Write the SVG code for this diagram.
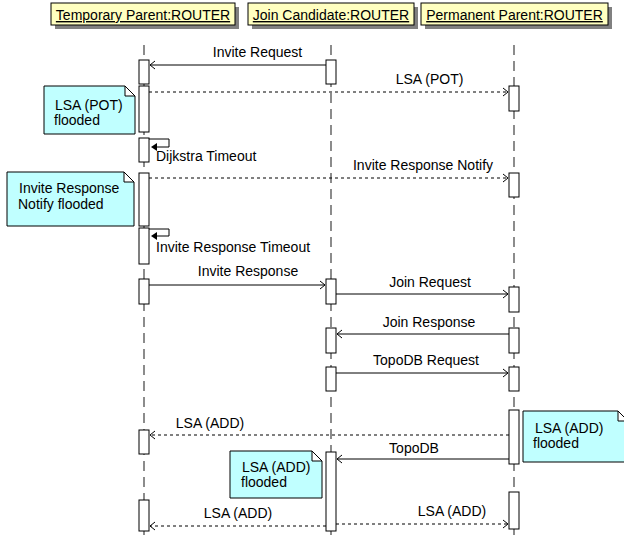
<svg xmlns="http://www.w3.org/2000/svg" width="624" height="537" viewBox="0 0 624 537">
  <style>
    text { font-family: "Liberation Sans", Arial, sans-serif; font-size: 14px; fill: #000; }
    .head { fill: #FFFFC0; stroke: #000; stroke-width: 1; }
    .shadow { fill: #808080; }
    .life { stroke: #404040; stroke-width: 1.2; stroke-dasharray: 10 6; fill: none; }
    .bar { fill: #fff; stroke: #000; stroke-width: 1; }
    .msg { stroke: #000; stroke-width: 1; fill: none; }
    .async { stroke: #000; stroke-width: 1; fill: none; stroke-dasharray: 3 3; }
    .note { fill: #C0FFFF; stroke: #000; stroke-width: 1; }
    .fold { fill: #fff; stroke: #000; stroke-width: 1; }
    .u { text-decoration: underline; }
  </style>
  <defs>
    <marker id="open" markerUnits="userSpaceOnUse" markerWidth="10" markerHeight="10" refX="6" refY="5" orient="auto">
      <path d="M1,1 L6,5 L1,9" fill="none" stroke="#000" stroke-width="1"/>
    </marker>
  </defs>

  <!-- lifeline heads -->
  <g id="temporary-parent">
    <rect class="shadow" x="55" y="7" width="184" height="22"/>
    <rect class="head" x="51" y="3" width="184" height="22"/>
    <text class="u" x="143" y="20" text-anchor="middle">Temporary Parent:ROUTER</text>
  </g>
  <g id="join-candidate">
    <rect class="shadow" x="252" y="7" width="166" height="22"/>
    <rect class="head" x="248" y="3" width="166" height="22"/>
    <text class="u" x="331" y="20" text-anchor="middle">Join Candidate:ROUTER</text>
  </g>
  <g id="permanent-parent">
    <rect class="shadow" x="425" y="7" width="187" height="22"/>
    <rect class="head" x="421" y="3" width="187" height="22"/>
    <text class="u" x="514.5" y="20" text-anchor="middle">Permanent Parent:ROUTER</text>
  </g>

  <!-- lifelines -->
  <g id="lifelines">
    <line class="life" x1="144" y1="45" x2="144" y2="537"/>
    <line class="life" x1="331" y1="45" x2="331" y2="537"/>
    <line class="life" x1="514" y1="45" x2="514" y2="537"/>
  </g>

  <!-- activation bars -->
  <g id="activations">
    <rect class="bar" x="139" y="60" width="10" height="24"/>
    <rect class="bar" x="139" y="86" width="10" height="46"/>
    <rect class="bar" x="139" y="138" width="10" height="24"/>
    <rect class="bar" x="139" y="173" width="10" height="53"/>
    <rect class="bar" x="139" y="228" width="10" height="36"/>
    <rect class="bar" x="139" y="279" width="10" height="25"/>
    <rect class="bar" x="139" y="430" width="10" height="24"/>
    <rect class="bar" x="139" y="500" width="10" height="31"/>

    <rect class="bar" x="326" y="60" width="10" height="24"/>
    <rect class="bar" x="326" y="279" width="10" height="25"/>
    <rect class="bar" x="326" y="328" width="10" height="25"/>
    <rect class="bar" x="326" y="367" width="10" height="24"/>
    <rect class="bar" x="326" y="452" width="10" height="79"/>

    <rect class="bar" x="509" y="86" width="10" height="25"/>
    <rect class="bar" x="509" y="173" width="10" height="24"/>
    <rect class="bar" x="509" y="287" width="10" height="25"/>
    <rect class="bar" x="509" y="328" width="10" height="25"/>
    <rect class="bar" x="509" y="367" width="10" height="24"/>
    <rect class="bar" x="509" y="410" width="10" height="54"/>
    <rect class="bar" x="509" y="492" width="10" height="37"/>
  </g>

  <!-- messages -->
  <g id="connectors">
    <line class="msg" x1="326" y1="65" x2="150" y2="65" marker-end="url(#open)"/>
    <text x="257.5" y="57" text-anchor="middle">Invite Request</text>

    <line class="async" x1="149" y1="92" x2="508" y2="92" marker-end="url(#open)"/>
    <text x="429.5" y="84" text-anchor="middle">LSA (POT)</text>

    <polyline class="msg" points="149,139 169,139 169,147 156,147"/>
    <polygon points="151,147 157,143 157,151" fill="#000"/>
    <text x="156" y="161">Dijkstra Timeout</text>

    <line class="async" x1="149" y1="178" x2="508" y2="178" marker-end="url(#open)"/>
    <text x="423" y="170" text-anchor="middle">Invite Response Notify</text>

    <polyline class="msg" points="149,229 169,229 169,236 156,236"/>
    <polygon points="151,236 157,232 157,240" fill="#000"/>
    <text x="156" y="252">Invite Response Timeout</text>

    <line class="msg" x1="149" y1="285" x2="325" y2="285" marker-end="url(#open)"/>
    <text x="248" y="276" text-anchor="middle">Invite Response</text>

    <line class="msg" x1="336" y1="294" x2="508" y2="294" marker-end="url(#open)"/>
    <text x="430" y="287" text-anchor="middle">Join Request</text>

    <line class="msg" x1="509" y1="334" x2="337" y2="334" marker-end="url(#open)"/>
    <text x="429" y="327" text-anchor="middle">Join Response</text>

    <line class="msg" x1="336" y1="373" x2="508" y2="373" marker-end="url(#open)"/>
    <text x="426" y="365" text-anchor="middle">TopoDB Request</text>

    <line class="async" x1="509" y1="435" x2="150" y2="435" marker-end="url(#open)"/>
    <text x="210" y="428" text-anchor="middle">LSA (ADD)</text>

    <line class="msg" x1="509" y1="459" x2="337" y2="459" marker-end="url(#open)"/>
    <text x="414" y="453" text-anchor="middle">TopoDB</text>

    <line class="async" x1="326" y1="526" x2="150" y2="526" marker-end="url(#open)"/>
    <text x="238" y="518" text-anchor="middle">LSA (ADD)</text>

    <line class="async" x1="336" y1="524" x2="508" y2="524" marker-end="url(#open)"/>
    <text x="452" y="516" text-anchor="middle">LSA (ADD)</text>
  </g>

  <!-- notes -->
  <g id="note-lsa-pot">
    <path class="note" d="M44,86 L125,86 L135,96 L135,134 L44,134 Z"/>
    <path class="fold" d="M125,86 L125,96 L135,96 Z"/>
    <text x="55" y="110">LSA (POT)</text>
    <text x="54" y="125">flooded</text>
  </g>
  <g id="note-invite-response">
    <path class="note" d="M7,172 L124,172 L134,182 L134,226 L7,226 Z"/>
    <path class="fold" d="M124,172 L124,182 L134,182 Z"/>
    <text x="19" y="193">Invite Response</text>
    <text x="18" y="209">Notify flooded</text>
  </g>
  <g id="note-lsa-add-candidate">
    <path class="note" d="M230,451 L312,451 L322,461 L322,498 L230,498 Z"/>
    <path class="fold" d="M312,451 L312,461 L322,461 Z"/>
    <text x="242" y="472">LSA (ADD)</text>
    <text x="241" y="487">flooded</text>
  </g>
  <g id="note-lsa-add-permanent">
    <path class="note" d="M523,411 L618,411 L628,421 L628,462 L523,462 Z"/>
    <path class="fold" d="M618,411 L618,421 L628,421 Z"/>
    <text x="535" y="433">LSA (ADD)</text>
    <text x="533" y="448">flooded</text>
  </g>
</svg>
